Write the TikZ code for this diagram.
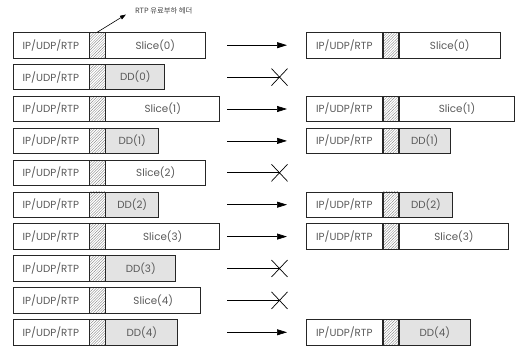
\documentclass[tikz,border=0pt]{standalone}
\usepackage{fontspec}
\setmainfont{Poppins}
\newfontfamily\krfont{Noto Sans CJK KR}
\usetikzlibrary{arrows.meta,patterns.meta}

\tikzset{
  cell/.style={draw=black!85, line width=0.7pt, minimum height=25.5pt,
    inner sep=0pt, anchor=west, text=black!65,
    font=\fontsize{10.3}{12}\selectfont},
  hdr/.style={cell, minimum width=76pt},
  hatchcell/.style={cell, minimum width=15.5pt,
    pattern={Lines[angle=45,distance=1.9pt,line width=0.3pt]},
    pattern color=black!55},
  slicecell/.style={cell, fill=white},
  ddcell/.style={cell, fill=black!11},
  sendarrow/.style={line width=0.7pt, -{Triangle[length=10pt,width=6pt]}},
  droparrow/.style={line width=0.7pt},
  dropmark/.style={line width=0.7pt},
  note/.style={line width=0.6pt, -{Triangle[length=6pt,width=4pt]}},
}

% packet: header + payload-header hatch + payload
% #1 name, #2 x, #3 y (centre), #4 payload width, #5 label, #6 payload style
\newcommand\packet[6]{%
  \node[hdr] (#1h) at (#2,#3) {IP/UDP/RTP};
  \node[hatchcell] (#1x) at (#1h.east) {};
  \node[#6, minimum width=#4] (#1p) at (#1x.east) {#5};
}
% forwarded packet: arrow from sender side to receiver side
\newcommand\sendrow[2]{% #1 name, #2 y
  \coordinate (#1s) at (227,#2);
  \coordinate (#1e) at (287,#2);
  \draw[sendarrow] (#1s) -- (#1e);
}
% dropped packet: line ending in a cross
\newcommand\droprow[2]{%
  \coordinate (#1s) at (227,#2);
  \coordinate (#1e) at (279.5,#2);
  \draw[droparrow] (#1s) -- (#1e);
  \draw[dropmark] ([shift={(-8,-8.5)}]#1e) -- ([shift={(8,8.5)}]#1e)
                  ([shift={(-8,8.5)}]#1e) -- ([shift={(8,-8.5)}]#1e);
}

\begin{document}
\begin{tikzpicture}[x=1pt,y=-1pt]
\useasboundingbox (0,0) rectangle (515,347);

% sender side
\packet{L0}{12.5}{45.2}{100pt}{Slice(0)}{slicecell}
\packet{L1}{12.5}{77.1}{59pt}{DD(0)}{ddcell}
\packet{L2}{12.5}{109.0}{114pt}{Slice(1)}{slicecell}
\packet{L3}{12.5}{140.9}{53pt}{DD(1)}{ddcell}
\packet{L4}{12.5}{172.8}{100pt}{Slice(2)}{slicecell}
\packet{L5}{12.5}{204.7}{53pt}{DD(2)}{ddcell}
\packet{L6}{12.5}{236.6}{114pt}{Slice(3)}{slicecell}
\packet{L7}{12.5}{268.5}{70pt}{DD(3)}{ddcell}
\packet{L8}{12.5}{300.4}{95pt}{Slice(4)}{slicecell}
\packet{L9}{12.5}{332.3}{72pt}{DD(4)}{ddcell}

% transmission
\sendrow{A0}{45.2}
\droprow{A1}{77.1}
\sendrow{A2}{109.0}
\sendrow{A3}{140.9}
\droprow{A4}{172.8}
\sendrow{A5}{204.7}
\sendrow{A6}{236.6}
\droprow{A7}{268.5}
\droprow{A8}{300.4}
\sendrow{A9}{332.3}

% receiver side
\packet{R0}{306}{45.2}{101pt}{Slice(0)}{slicecell}
\packet{R2}{306}{109.0}{115.5pt}{Slice(1)}{slicecell}
\packet{R3}{306}{140.9}{51pt}{DD(1)}{ddcell}
\packet{R5}{306}{204.7}{53.5pt}{DD(2)}{ddcell}
\packet{R6}{306}{236.6}{109.5pt}{Slice(3)}{slicecell}
\packet{R9}{306}{332.3}{71pt}{DD(4)}{ddcell}

% payload header callout
\node[anchor=west, inner sep=0pt, text=black!75,
      font=\krfont\fontsize{7.3}{9}\selectfont] (lbl) at (135,11) {RTP 유료부하 헤더};
\coordinate (tip) at (126,14.5);
\draw[note] (L0x.north) -- (tip);
\end{tikzpicture}
\end{document}
